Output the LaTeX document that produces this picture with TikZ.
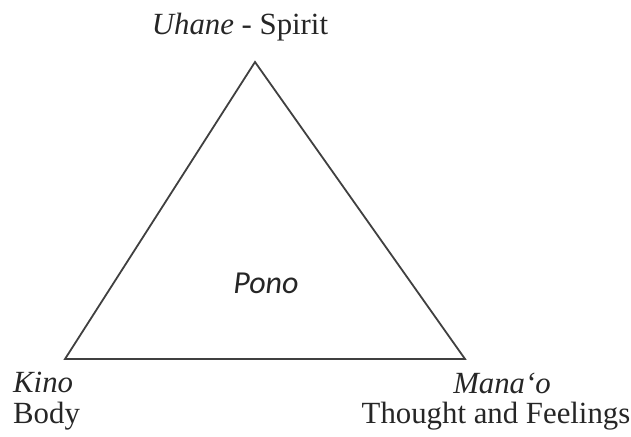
\documentclass[tikz,border=0pt]{standalone}
\usepackage{fontspec}
\setmainfont{Liberation Serif}
\newfontfamily\ponofont{Carlito}
\begin{document}
\begin{tikzpicture}[x=1pt,y=-1pt,
  lbl/.style={inner sep=0pt,font=\fontsize{30.8}{36}\selectfont,text=black!85},
  edge/.style={draw=black!75,line width=1.8pt,line join=miter}]
\useasboundingbox (0,0) rectangle (631,436);
\coordinate (top) at (255,62);
\coordinate (bl) at (65,359);
\coordinate (br) at (465,359);
\draw[edge] (top) -- (bl) -- (br) -- cycle;
\node[lbl,anchor=base] (uhane) at (240,35) {\textit{Uhane} - Spirit};
\node[lbl,anchor=base west] (kino) at (13,392) {\textit{Kino}};
\node[lbl,anchor=base west] (body) at (13,423) {Body};
\node[lbl,anchor=base] (manao) at (502,393) {\textit{Mana`o}};
\node[lbl,anchor=base] (thought) at (496,423) {Thought and Feelings};
\node[inner sep=0pt,anchor=base,font=\ponofont\itshape\fontsize{32}{38}\selectfont,text=black!85] (pono) at (266,293) {Pono};
\end{tikzpicture}
\end{document}
